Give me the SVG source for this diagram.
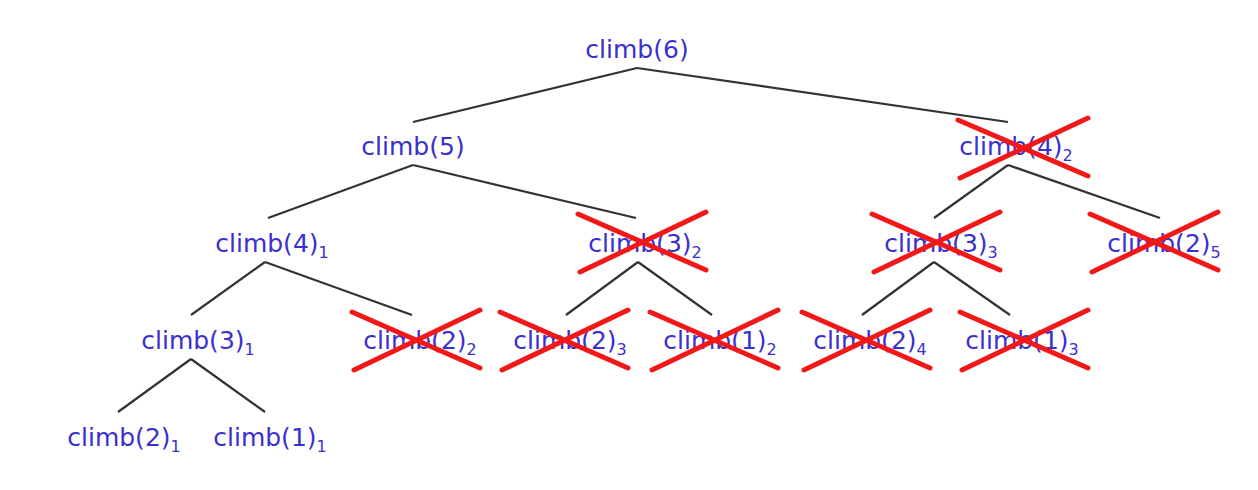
<svg xmlns="http://www.w3.org/2000/svg" width="1258" height="490" viewBox="0 0 1258 490">
<defs><style>
text{font-family:"DejaVu Sans","Liberation Sans",sans-serif;font-size:25px;fill:#3a2fd0;text-anchor:middle}
.s{font-size:16px}
.e line{stroke:#333;stroke-width:2.2}
.x line{stroke:#f21818;stroke-width:5;stroke-linecap:round}
</style></defs>
<rect width="1258" height="490" fill="#fff"/>
<g class="e" id="connectors">
<line x1="637" y1="68" x2="413" y2="122"/><line x1="637" y1="68" x2="1008" y2="122"/>
<line x1="413" y1="165" x2="268" y2="218"/><line x1="413" y1="165" x2="636" y2="218"/>
<line x1="1008" y1="165" x2="934" y2="218"/><line x1="1008" y1="165" x2="1160" y2="218"/>
<line x1="265" y1="262" x2="191" y2="315"/><line x1="265" y1="262" x2="412" y2="315"/>
<line x1="638" y1="262" x2="566" y2="315"/><line x1="638" y1="262" x2="712" y2="315"/>
<line x1="934" y1="262" x2="862" y2="315"/><line x1="934" y1="262" x2="1010" y2="315"/>
<line x1="191" y1="359" x2="118" y2="412"/><line x1="191" y1="359" x2="265" y2="412"/>
</g>
<g id="n6"><text x="637" y="58">climb(6)</text></g>
<g id="n5"><text x="413" y="155">climb(5)</text></g>
<g id="n4b"><text x="1016" y="155">climb(4)<tspan class="s" dy="6">2</tspan></text><g class="x"><line x1="958" y1="120" x2="1088" y2="176"/><line x1="960" y1="178" x2="1088" y2="118"/></g></g>
<g id="n4a"><text x="272" y="252">climb(4)<tspan class="s" dy="6">1</tspan></text></g>
<g id="n3b"><text x="645" y="252">climb(3)<tspan class="s" dy="6">2</tspan></text><g class="x"><line x1="578" y1="214" x2="706" y2="270"/><line x1="580" y1="272" x2="706" y2="212"/></g></g>
<g id="n3c"><text x="941" y="252">climb(3)<tspan class="s" dy="6">3</tspan></text><g class="x"><line x1="872" y1="214" x2="1000" y2="270"/><line x1="874" y1="272" x2="1000" y2="212"/></g></g>
<g id="n2e"><text x="1164" y="252">climb(2)<tspan class="s" dy="6">5</tspan></text><g class="x"><line x1="1090" y1="214" x2="1218" y2="270"/><line x1="1092" y1="272" x2="1218" y2="212"/></g></g>
<g id="n3a"><text x="198" y="349">climb(3)<tspan class="s" dy="6">1</tspan></text></g>
<g id="n2b"><text x="420" y="349">climb(2)<tspan class="s" dy="6">2</tspan></text><g class="x"><line x1="352" y1="312" x2="480" y2="368"/><line x1="354" y1="370" x2="480" y2="310"/></g></g>
<g id="n2c"><text x="570" y="349">climb(2)<tspan class="s" dy="6">3</tspan></text><g class="x"><line x1="500" y1="312" x2="628" y2="368"/><line x1="502" y1="370" x2="628" y2="310"/></g></g>
<g id="n1b"><text x="720" y="349">climb(1)<tspan class="s" dy="6">2</tspan></text><g class="x"><line x1="650" y1="312" x2="778" y2="368"/><line x1="652" y1="370" x2="778" y2="310"/></g></g>
<g id="n2d"><text x="870" y="349">climb(2)<tspan class="s" dy="6">4</tspan></text><g class="x"><line x1="802" y1="312" x2="930" y2="368"/><line x1="804" y1="370" x2="930" y2="310"/></g></g>
<g id="n1c"><text x="1022" y="349">climb(1)<tspan class="s" dy="6">3</tspan></text><g class="x"><line x1="960" y1="312" x2="1088" y2="368"/><line x1="962" y1="370" x2="1088" y2="310"/></g></g>
<g id="n2a"><text x="124" y="446">climb(2)<tspan class="s" dy="6">1</tspan></text></g>
<g id="n1a"><text x="270" y="446">climb(1)<tspan class="s" dy="6">1</tspan></text></g>
</svg>
